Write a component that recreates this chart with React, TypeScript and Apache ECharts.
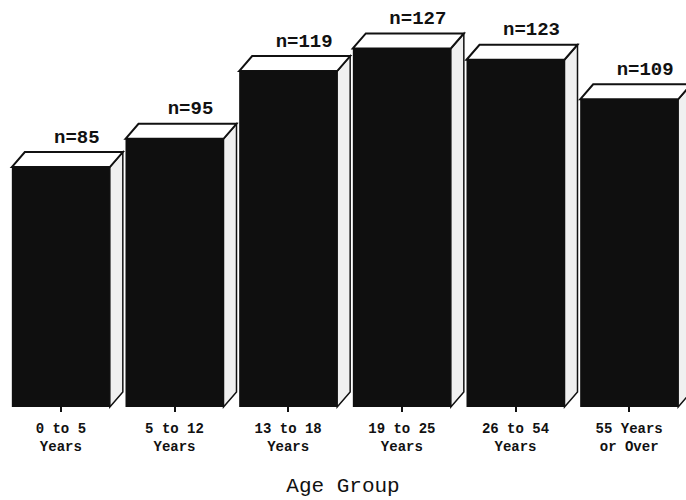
import React, { useEffect, useRef } from "react";
import * as echarts from "echarts";

const categories = [
  "0 to 5\nYears",
  "5 to 12\nYears",
  "13 to 18\nYears",
  "19 to 25\nYears",
  "26 to 54\nYears",
  "55 Years\nor Over",
];
const counts = [85, 95, 119, 127, 123, 109];
const valueLabels = ["n=85", "n=95", "n=119", "n=127", "n=123", "n=109"];
const axisTitle = "Age Group";

export default function App() {
  const ref = useRef<HTMLDivElement>(null);
  useEffect(() => {
    if (!ref.current) return;
    const chart = echarts.init(ref.current, null, { renderer: "svg" });
    const dx = 13;
    const dy = 15;
    const barW = 98;
    chart.setOption({
      animation: false,
      backgroundColor: "#ffffff",
      grid: { left: 4, right: -4, top: 40, bottom: 93 },
      xAxis: {
        type: "category",
        data: categories,
        boundaryGap: true,
        axisLine: { show: false },
        axisTick: {
          show: true,
          alignWithLabel: true,
          length: 5,
          lineStyle: { color: "#111", width: 2 },
        },
        axisLabel: {
          interval: 0,
          margin: 13,
          color: "#111",
          fontFamily: "Liberation Mono",
          fontWeight: "bold",
          fontSize: 14,
          lineHeight: 18,
        },
      },
      yAxis: {
        type: "value",
        min: 0,
        max: 130,
        show: false,
        splitLine: { show: false },
      },
      graphic: [
        {
          type: "text",
          left: "center",
          top: 476,
          style: {
            text: axisTitle,
            fill: "#111",
            font: "21px 'Liberation Mono'",
          },
        },
      ],
      series: [
        {
          type: "custom",
          data: counts.map((v, i) => [i, v]),
          clip: false,
          renderItem: (params: any, api: any) => {
            const i = api.value(0);
            const v = api.value(1);
            const top = api.coord([i, v]);
            const base = api.coord([i, 0]);
            const xc = top[0];
            const x0 = xc - barW / 2;
            const x1 = xc + barW / 2;
            const yT = top[1];
            const yB = base[1];
            return {
              type: "group",
              children: [
                {
                  type: "polygon",
                  shape: {
                    points: [
                      [x1, yT],
                      [x1 + dx, yT - dy],
                      [x1 + dx, yB - dy],
                      [x1, yB],
                    ],
                  },
                  style: { fill: "#f0f0f0", stroke: "#111", lineWidth: 1.5 },
                },
                {
                  type: "polygon",
                  shape: {
                    points: [
                      [x0, yT],
                      [x0 + dx, yT - dy],
                      [x1 + dx, yT - dy],
                      [x1, yT],
                    ],
                  },
                  style: { fill: "#ffffff", stroke: "#111", lineWidth: 2 },
                },
                {
                  type: "rect",
                  shape: { x: x0, y: yT, width: barW, height: yB - yT },
                  style: { fill: "#0f0f0f" },
                },
                {
                  type: "text",
                  x: xc + 16,
                  y: yT - dy - 5,
                  style: {
                    text: valueLabels[i],
                    fill: "#111",
                    font: "bold 19px 'Liberation Mono'",
                    textAlign: "center",
                    textVerticalAlign: "bottom",
                  },
                },
              ],
            };
          },
        },
      ],
    });
    return () => chart.dispose();
  }, []);
  return (
    <div
      ref={ref}
      style={{ position: "absolute", left: 0, top: 0, width: 686, height: 500 }}
    />
  );
}
